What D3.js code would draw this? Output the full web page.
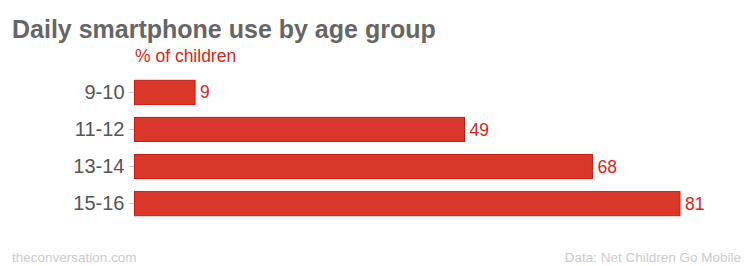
<!DOCTYPE html>
<html>
<head>
<meta charset="utf-8">
<script src="https://cdn.jsdelivr.net/npm/d3@7"></script>
<style>
  body { margin: 0; background: #fff; }
  text { font-family: "Liberation Sans", Arial, sans-serif; }
</style>
</head>
<body>
<svg id="chart" width="754" height="266"></svg>
<script>
// data
var ageGroups = ["9-10", "11-12", "13-14", "15-16"];
var dailyUse = [9, 49, 68, 81];

var svg = d3.select("#chart"),
    width = +svg.attr("width"),
    height = +svg.attr("height");

svg.append("rect").attr("width", width).attr("height", height).attr("fill", "#fff");

var x = d3.scaleLinear().domain([0, 81]).range([134.5, 680]);
var y = d3.scaleBand().domain(ageGroups).range([74, 222]).paddingInner(0.35).paddingOuter(0.17);

// title + subtitle
svg.append("text")
    .attr("x", 12).attr("y", 38)
    .attr("fill", "#666")
    .style("font-size", "25px")
    .style("font-weight", "bold")
    .text("Daily smartphone use by age group");

svg.append("text")
    .attr("x", 135).attr("y", 62)
    .attr("fill", "#d7261b")
    .style("font-size", "17.5px")
    .text("% of children");

// y axis (labels + little ticks)
var axis = svg.append("g")
    .attr("transform", "translate(" + x(0) + ",0)")
    .call(d3.axisLeft(y).tickSize(6).tickPadding(4));
axis.select(".domain").remove();
axis.selectAll("line").attr("stroke", "#ccc");
axis.selectAll("text")
    .attr("fill", "#555")
    .style("font-size", "20px")
    .style("font-family", "Liberation Sans, Arial, sans-serif");

// bars
svg.append("g")
  .selectAll("rect")
  .data(dailyUse)
  .join("rect")
    .attr("x", x(0))
    .attr("y", function(d, i) { return y(ageGroups[i]); })
    .attr("width", function(d) { return x(d) - x(0); })
    .attr("height", y.bandwidth())
    .attr("fill", "#d9372a")
    .attr("stroke", "#cc1a10")
    .attr("stroke-width", 1);

// value labels
svg.append("g")
  .selectAll("text")
  .data(dailyUse)
  .join("text")
    .attr("x", function(d) { return x(d) + 5; })
    .attr("y", function(d, i) { return y(ageGroups[i]) + y.bandwidth() / 2; })
    .attr("dy", "0.35em")
    .attr("fill", "#d7261b")
    .style("font-size", "17.5px")
    .text(function(d) { return d; });

// footer
svg.append("text")
    .attr("x", 12).attr("y", 262)
    .attr("fill", "#ccc")
    .style("font-size", "13.5px")
    .text("theconversation.com");

svg.append("text")
    .attr("x", 741).attr("y", 262)
    .attr("text-anchor", "end")
    .attr("fill", "#ccc")
    .style("font-size", "13.5px")
    .text("Data: Net Children Go Mobile");
</script>
</body>
</html>
